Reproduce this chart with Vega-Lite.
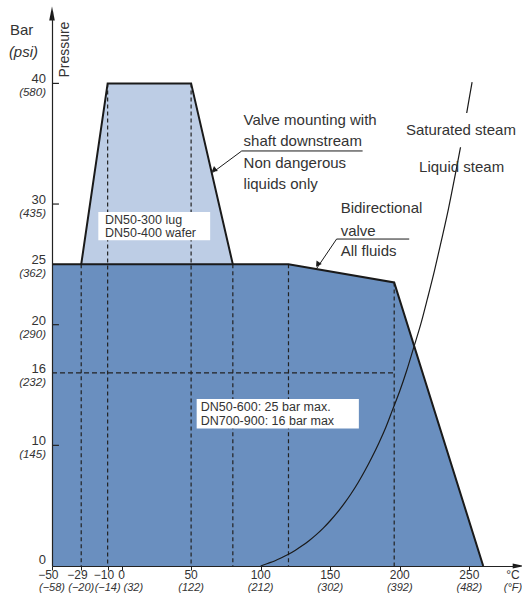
{
  "$schema": "https://vega.github.io/schema/vega-lite/v6.json",
  "autosize": "none",
  "padding": {"left": 52, "top": 11, "right": 4, "bottom": 39},
  "width": 466,
  "height": 555,
  "config": {"view": {"stroke": null}, "font": "Liberation Sans"},
  "datasets": {
    "one": [{}],
    "dark": [{"t": -50, "p": 25}, {"t": 120, "p": 25}, {"t": 196, "p": 23.5}, {"t": 260, "p": 0}],
    "light": [{"t": -29, "p": 25}, {"t": -10, "p": 40}, {"t": 50, "p": 40}, {"t": 80, "p": 25}],
    "vdash": [{"t": -29, "p": 25}, {"t": -10, "p": 40}, {"t": 50, "p": 40}, {"t": 80, "p": 25}, {"t": 120, "p": 25}, {"t": 196, "p": 23.5}],
    "hdash": [{"t1": -50, "t2": 196, "p": 16}],
    "outline": [
      {"g": "a", "t": -29, "p": 25}, {"g": "a", "t": -10, "p": 40}, {"g": "a", "t": 50, "p": 40}, {"g": "a", "t": 80, "p": 25},
      {"g": "b", "t": -50, "p": 25}, {"g": "b", "t": 120, "p": 25}, {"g": "b", "t": 196, "p": 23.5}, {"g": "b", "t": 260, "p": 0}
    ],
    "steam": [
      {"t": 100, "p": 0}, {"t": 105, "p": 0.21}, {"t": 110, "p": 0.42}, {"t": 115, "p": 0.68}, {"t": 120, "p": 0.97},
      {"t": 125, "p": 1.31}, {"t": 130, "p": 1.69}, {"t": 135, "p": 2.12}, {"t": 140, "p": 2.6}, {"t": 145, "p": 3.14},
      {"t": 150, "p": 3.75}, {"t": 155, "p": 4.42}, {"t": 160, "p": 5.17}, {"t": 165, "p": 5.99}, {"t": 170, "p": 6.9},
      {"t": 175, "p": 7.91}, {"t": 180, "p": 9.01}, {"t": 185, "p": 10.2}, {"t": 190, "p": 11.5}, {"t": 195, "p": 13.0},
      {"t": 200, "p": 14.5}, {"t": 205, "p": 16.2}, {"t": 210, "p": 18.1}, {"t": 215, "p": 20.0}, {"t": 220, "p": 22.2},
      {"t": 225, "p": 24.5}, {"t": 230, "p": 27.0}, {"t": 235, "p": 29.6}, {"t": 240, "p": 32.5}, {"t": 245, "p": 35.5},
      {"t": 250, "p": 38.8}, {"t": 252, "p": 40.1}
    ],
    "boxes": [
      {"t1": 203, "t2": 287, "p1": 34.7, "p2": 37.55},
      {"t1": -16.7, "t2": 63.7, "p1": 27.0, "p2": 29.35},
      {"t1": 54.0, "t2": 170.6, "p1": 11.4, "p2": 13.85}
    ],
    "boxtext": [
      {"t": -11.9, "p": 28.68, "txt": "DN50-300 lug"},
      {"t": -11.9, "p": 27.63, "txt": "DN50-400 wafer"},
      {"t": 56.9, "p": 13.18, "txt": "DN50-600: 25 bar max."},
      {"t": 56.9, "p": 12.02, "txt": "DN700-900: 16 bar max"}
    ],
    "ann": [
      {"t": 87.7, "p": 37.0, "txt": "Valve mounting with"},
      {"t": 87.7, "p": 35.2, "txt": "shaft downstream"},
      {"t": 87.7, "p": 33.4, "txt": "Non dangerous"},
      {"t": 87.7, "p": 31.7, "txt": "liquids only"},
      {"t": 157.5, "p": 29.7, "txt": "Bidirectional"},
      {"t": 157.5, "p": 27.8, "txt": "valve"},
      {"t": 157.5, "p": 26.1, "txt": "All fluids"},
      {"t": 204.4, "p": 36.1, "txt": "Saturated steam"},
      {"t": 213.9, "p": 33.1, "txt": "Liquid steam"},
      {"t": -80.2, "p": 44.4, "txt": "Bar"}
    ],
    "leaders": [
      {"t1": 86.4, "p1": 34.4, "t2": 173.3, "p2": 34.4},
      {"t1": 86.4, "p1": 34.4, "t2": 65.3, "p2": 32.6},
      {"t1": 154.6, "p1": 27.1, "t2": 206.8, "p2": 27.1},
      {"t1": 154.6, "p1": 27.1, "t2": 140.2, "p2": 24.65}
    ],
    "heads": [
      {"t": 66.8, "p": 32.85, "a": 232.6},
      {"t": 141.3, "p": 25.05, "a": 214.3}
    ],
    "yticks": [{"p": 10}, {"p": 20}, {"p": 30}, {"p": 40}],
    "ylab": [
      {"p": 40, "b": "40", "s": "(580)"}, {"p": 30, "b": "30", "s": "(435)"}, {"p": 25, "b": "25", "s": "(362)"},
      {"p": 20, "b": "20", "s": "(290)"}, {"p": 16, "b": "16", "s": "(232)"}, {"p": 10, "b": "10", "s": "(145)"}
    ],
    "xneg": [
      {"t": -50, "c": "−50", "f": "(−58)"}, {"t": -29, "c": "−29", "f": "(−20)"}, {"t": -10, "c": "−10", "f": "(−14)"}
    ],
    "xpos": [
      {"t": 50, "c": "50", "f": "(122)"}, {"t": 100, "c": "100", "f": "(212)"},
      {"t": 150, "c": "150", "f": "(302)"}, {"t": 200, "c": "200", "f": "(392)"}, {"t": 250, "c": "250", "f": "(482)"},
      {"t": 281.4, "c": "°C", "f": "(°F)"}
    ],
    "xzero": [{"t": 0, "c": "0", "f": "(32)"}]
  },
  "layer": [
    {
      "data": {"name": "dark"},
      "mark": {"type": "area", "color": "#6a8fbf"},
      "encoding": {
        "x": {"field": "t", "type": "quantitative", "scale": {"domain": [-50, 285], "nice": false, "zero": false},
              "axis": {"values": [-50, -29, -10, 0, 50, 100, 150, 200, 250], "labels": false, "title": null, "grid": false,
                       "tickSize": 4, "tickColor": "#222", "domainColor": "#222", "tickWidth": 1, "domainWidth": 1.2, "zindex": 1}},
        "y": {"field": "p", "type": "quantitative", "scale": {"domain": [0, 46], "nice": false, "zero": false},
              "axis": {"labels": false, "ticks": false, "title": null, "grid": false, "domainColor": "#222", "domainWidth": 1.2, "zindex": 1}},
        "y2": {"datum": 0}
      }
    },
    {
      "data": {"name": "light"},
      "mark": {"type": "area", "color": "#bdcde5"},
      "encoding": {"x": {"field": "t", "type": "quantitative"}, "y": {"field": "p", "type": "quantitative"}, "y2": {"datum": 25}}
    },
    {
      "data": {"name": "vdash"},
      "mark": {"type": "rule", "color": "#222", "strokeDash": [4, 3], "strokeWidth": 1.2},
      "encoding": {"x": {"field": "t", "type": "quantitative"}, "y": {"field": "p", "type": "quantitative"}, "y2": {"datum": 0}}
    },
    {
      "data": {"name": "hdash"},
      "mark": {"type": "rule", "color": "#222", "strokeDash": [5, 3], "strokeWidth": 1.2},
      "encoding": {"x": {"field": "t1", "type": "quantitative"}, "x2": {"field": "t2"}, "y": {"field": "p", "type": "quantitative"}}
    },
    {
      "data": {"name": "outline"},
      "mark": {"type": "line", "color": "#1a1a1a", "strokeWidth": 2},
      "encoding": {"x": {"field": "t", "type": "quantitative"}, "y": {"field": "p", "type": "quantitative"}, "detail": {"field": "g"}}
    },
    {
      "data": {"name": "steam"},
      "mark": {"type": "line", "color": "#1a1a1a", "strokeWidth": 1.2, "interpolate": "monotone"},
      "encoding": {"x": {"field": "t", "type": "quantitative"}, "y": {"field": "p", "type": "quantitative"}}
    },
    {
      "data": {"name": "boxes"},
      "mark": {"type": "rect", "color": "white"},
      "encoding": {"x": {"field": "t1", "type": "quantitative"}, "x2": {"field": "t2"}, "y": {"field": "p1", "type": "quantitative"}, "y2": {"field": "p2"}}
    },
    {
      "data": {"name": "boxtext"},
      "mark": {"type": "text", "align": "left", "baseline": "middle", "fontSize": 12.5, "color": "#333"},
      "encoding": {"x": {"field": "t", "type": "quantitative"}, "y": {"field": "p", "type": "quantitative"}, "text": {"field": "txt"}}
    },
    {
      "data": {"name": "ann"},
      "mark": {"type": "text", "align": "left", "baseline": "middle", "fontSize": 15, "color": "#333"},
      "encoding": {"x": {"field": "t", "type": "quantitative"}, "y": {"field": "p", "type": "quantitative"}, "text": {"field": "txt"}}
    },
    {
      "data": {"name": "one"},
      "mark": {"type": "text", "align": "left", "baseline": "middle", "fontSize": 15, "fontStyle": "italic", "color": "#333"},
      "encoding": {"x": {"datum": -81}, "y": {"datum": 42.6}, "text": {"value": "(psi)"}}
    },
    {
      "data": {"name": "one"},
      "mark": {"type": "text", "align": "center", "baseline": "middle", "fontSize": 14, "angle": 270, "color": "#333"},
      "encoding": {"x": {"datum": -40.7}, "y": {"datum": 42.8}, "text": {"value": "Pressure"}}
    },
    {
      "data": {"name": "leaders"},
      "mark": {"type": "rule", "color": "#1a1a1a", "strokeWidth": 1},
      "encoding": {"x": {"field": "t1", "type": "quantitative"}, "x2": {"field": "t2"}, "y": {"field": "p1", "type": "quantitative"}, "y2": {"field": "p2"}}
    },
    {
      "data": {"name": "heads"},
      "mark": {"type": "point", "shape": "triangle", "filled": true, "color": "#1a1a1a", "size": 40, "opacity": 1},
      "encoding": {"x": {"field": "t", "type": "quantitative"}, "y": {"field": "p", "type": "quantitative"}, "angle": {"field": "a", "type": "quantitative", "scale": null}}
    },
    {
      "data": {"name": "yticks"},
      "mark": {"type": "rule", "color": "#222", "strokeWidth": 1.2},
      "encoding": {"x": {"datum": -50}, "x2": {"datum": -45}, "y": {"field": "p", "type": "quantitative"}}
    },
    {
      "data": {"name": "one"},
      "mark": {"type": "point", "shape": "M0,-1L-0.4,1L0.4,1Z", "filled": true, "color": "#1a1a1a", "size": 196, "opacity": 1},
      "encoding": {"x": {"datum": -50}, "y": {"datum": 45.8}}
    },
    {
      "data": {"name": "one"},
      "mark": {"type": "point", "shape": "M0,-1L-0.4,1L0.4,1Z", "filled": true, "color": "#1a1a1a", "size": 144, "opacity": 1, "angle": 90},
      "encoding": {"x": {"datum": 285.5}, "y": {"datum": 0}}
    },
    {
      "data": {"name": "ylab"},
      "mark": {"type": "text", "align": "right", "baseline": "alphabetic", "dx": -6, "fontSize": 13, "color": "#333"},
      "encoding": {"x": {"datum": -50}, "y": {"field": "p", "type": "quantitative"}, "text": {"field": "b"}}
    },
    {
      "data": {"name": "ylab"},
      "mark": {"type": "text", "align": "right", "baseline": "top", "dx": -6, "dy": 4, "fontSize": 11.5, "fontStyle": "italic", "color": "#333"},
      "encoding": {"x": {"datum": -50}, "y": {"field": "p", "type": "quantitative"}, "text": {"field": "s"}}
    },
    {
      "data": {"name": "one"},
      "mark": {"type": "text", "align": "right", "baseline": "alphabetic", "dx": -6, "dy": -2, "fontSize": 13, "color": "#333"},
      "encoding": {"x": {"datum": -50}, "y": {"datum": 0}, "text": {"value": "0"}}
    },
    {
      "data": {"name": "xneg"},
      "mark": {"type": "text", "align": "right", "baseline": "top", "dx": 6.5, "dy": 4, "fontSize": 12, "color": "#333"},
      "encoding": {"x": {"field": "t", "type": "quantitative"}, "y": {"datum": 0}, "text": {"field": "c"}}
    },
    {
      "data": {"name": "xneg"},
      "mark": {"type": "text", "align": "center", "baseline": "top", "dy": 16, "fontSize": 11, "fontStyle": "italic", "color": "#333"},
      "encoding": {"x": {"field": "t", "type": "quantitative"}, "y": {"datum": 0}, "text": {"field": "f"}}
    },
    {
      "data": {"name": "xpos"},
      "mark": {"type": "text", "align": "center", "baseline": "top", "dy": 4, "fontSize": 12, "color": "#333"},
      "encoding": {"x": {"field": "t", "type": "quantitative"}, "y": {"datum": 0}, "text": {"field": "c"}}
    },
    {
      "data": {"name": "xpos"},
      "mark": {"type": "text", "align": "center", "baseline": "top", "dy": 16, "fontSize": 11, "fontStyle": "italic", "color": "#333"},
      "encoding": {"x": {"field": "t", "type": "quantitative"}, "y": {"datum": 0}, "text": {"field": "f"}}
    },
    {
      "data": {"name": "xzero"},
      "mark": {"type": "text", "align": "center", "baseline": "top", "dy": 4, "fontSize": 12, "color": "#333"},
      "encoding": {"x": {"field": "t", "type": "quantitative"}, "y": {"datum": 0}, "text": {"field": "c"}}
    },
    {
      "data": {"name": "xzero"},
      "mark": {"type": "text", "align": "left", "baseline": "top", "dx": 2, "dy": 16, "fontSize": 11, "fontStyle": "italic", "color": "#333"},
      "encoding": {"x": {"field": "t", "type": "quantitative"}, "y": {"datum": 0}, "text": {"field": "f"}}
    }
  ]
}
